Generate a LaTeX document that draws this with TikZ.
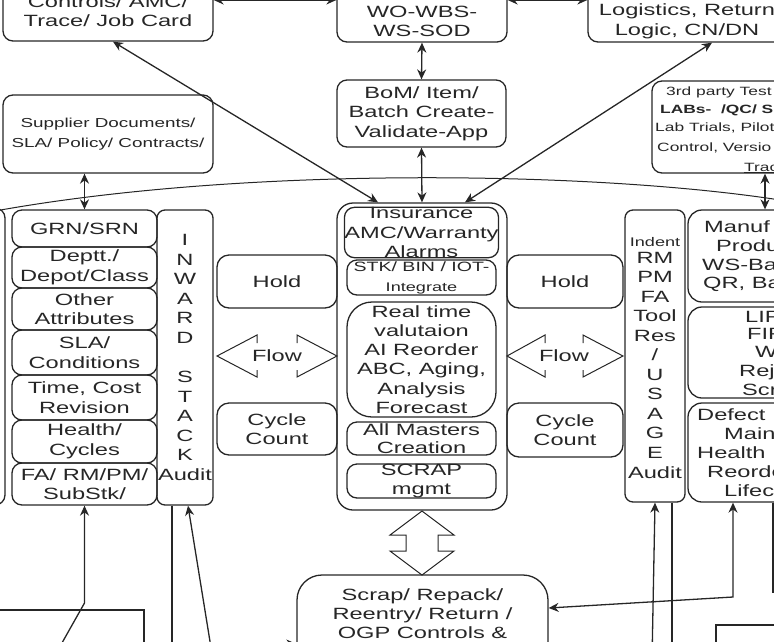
\documentclass[tikz,border=0pt]{standalone}
\usepackage{fontspec}
\setmainfont{Liberation Sans}[FakeStretch=1.45]
\usetikzlibrary{arrows.meta}
\definecolor{ink}{HTML}{262626}
\newcommand{\fMain}{\fontsize{16.3}{19.5}\selectfont}
\newcommand{\fInw}{\fontsize{16.3}{19.55}\selectfont}
\newcommand{\fRt}{\fontsize{16.3}{19.2}\selectfont}
\newcommand{\fAm}{\fontsize{16.3}{18.5}\selectfont}
\newcommand{\fStk}{\fontsize{13.5}{20}\selectfont}
\newcommand{\fSup}{\fontsize{13}{20}\selectfont}
\newcommand{\fTp}{\fontsize{12}{14}\selectfont}
\newcommand{\Bx}[7][]{%
  \node[bx,#1,minimum width={(#5)-(#3)},minimum height={(#6)-(#4)}] (#2)
    at ({((#3)+(#5))/2},{((#4)+(#6))/2}) {#7};}
\begin{document}
\begin{tikzpicture}[x=1pt,y=-1pt,
  every node/.style={text=ink},
  bx/.style={draw=ink,line width=1.3pt,rounded corners=10pt,inner sep=0pt,align=center,font=\fMain},
  tx/.style={inner sep=0pt,align=center,font=\fMain},
  tw/.style={inner sep=0pt,anchor=west,font=\fMain},
  ln/.style={draw=ink,line width=1.3pt},
  arr/.style={draw=ink,line width=1.3pt,{Stealth[length=10pt,width=9pt]}-{Stealth[length=10pt,width=9pt]}},
  arrone/.style={draw=ink,line width=1.3pt,-{Stealth[length=10pt,width=9pt]}},
  hollow/.style={draw=ink,line width=1pt,line join=miter}]
\useasboundingbox (0,0) rectangle (774,641);

% top row
\Bx{tl}{3}{-19}{213}{41}{Controls/ AMC/\\Trace/ Job Card}
\Bx{tm}{337}{-20}{507}{42}{}
\node[tx] (tmT) at (422,21.5) {WO-WBS-\\WS-SOD};
\Bx{tr}{588}{-20}{786}{42}{}
\node[tx] (trT) at (687,21.5) {Logistics, Return\\Logic, CN/DN};
\Bx{bom}{337}{80}{506}{147}{BoM/ Item/\\Batch Create-\\Validate-App}
\Bx[font=\fSup]{sup}{3}{95}{213}{173}{Supplier Documents/\\SLA/ Policy/ Contracts/}
\Bx{thr}{652}{81}{870}{173}{}
\node[tw,font=\fTp] (t1) at (666,92) {3rd party Test};
\node[tw,font=\fTp\bfseries] (t2) at (660,110) {LABs-\ \ /QC/ Su};
\node[tw,font=\fTp] (t3) at (655,128) {Lab Trials, Pilot};
\node[tw,font=\fTp] (t4) at (657,148) {Control, Versio};
\node[tw,font=\fTp] (t5) at (744,168) {\underline{Trac}};

% central stack
\Bx[rounded corners=16pt]{cO}{337}{203}{507}{510}{}
\Bx{ins}{347}{210}{496}{255}{Insurance\\AMC/Warranty\\Alarms}
\Bx[font=\fStk]{stk}{347}{260}{496}{295}{STK/ BIN / IOT-\\{\fontsize{12.5}{20}\selectfont Integrate}}
\Bx[rounded corners=25pt,font=\fRt]{rt}{347}{302}{496}{417}{Real time\\valutaion\\AI Reorder\\ABC, Aging,\\Analysis\\Forecast}
\Bx[font=\fAm]{am}{347}{422}{496}{455}{All Masters\\Creation}
\Bx[font=\fAm]{sc}{347}{464}{496}{498}{SCRAP\\mgmt}

% left stack
\Bx{farL}{-60}{208}{5}{505}{}
\Bx{c1}{12}{210}{157}{247}{GRN/SRN}
\Bx{c2}{12}{247}{157}{288}{Deptt./\\Depot/Class}
\Bx{c3}{12}{288}{157}{330}{Other\\Attributes}
\Bx{c4}{12}{330}{157}{375}{SLA/\\Conditions}
\Bx{c5}{12}{375}{157}{420}{Time, Cost\\Revision}
\Bx{c6}{12}{420}{157}{463}{Health/\\Cycles}
\Bx{c7}{12}{463}{157}{505}{FA/ RM/PM/\\SubStk/}
\Bx[rounded corners=8pt,font=\fInw]{inw}{157}{210}{213}{505}{I\\N\\W\\A\\R\\D\\\mbox{}\\S\\T\\A\\C\\K\\Audit}

% left hold / flow / cycle
\Bx[rounded corners=12pt]{holdL}{217}{255}{337}{308}{Hold}
\Bx[rounded corners=12pt]{cycL}{217}{403}{337}{455}{Cycle\\Count}
\draw[hollow] (257,343) -- (257,335) -- (217,356) -- (257,377) -- (257,370);
\draw[hollow] (297,343) -- (297,335) -- (337,356) -- (297,377) -- (297,370);
\node[tx] (flowL) at (277,356) {Flow};

% right hold / flow / cycle
\Bx[rounded corners=12pt]{holdR}{507}{255}{623}{308}{Hold}
\Bx[rounded corners=12pt]{cycR}{507}{403}{623}{457}{Cycle\\Count}
\draw[hollow] (545,343) -- (545,335) -- (507,356) -- (545,377) -- (545,370);
\draw[hollow] (583,343) -- (583,335) -- (623,356) -- (583,377) -- (583,370);
\node[tx] (flowR) at (564,356) {Flow};

% indent column
\Bx[rounded corners=8pt]{ind}{625}{210}{685}{502}{}
\node[tx,font=\fontsize{12.5}{14}\selectfont] (indT) at (655,242) {Indent};
\node[tx,font=\fInw] (usT) at (655,365) {RM\\PM\\FA\\Tool\\Res\\/\\U\\S\\A\\G\\E\\Audit};

% right cells (cropped)
\Bx[rounded corners=14pt]{mfb}{688}{210}{850}{302}{}
\Bx[rounded corners=14pt]{lfb}{688}{307}{850}{398}{}
\Bx[rounded corners=14pt]{dfb}{688}{403}{850}{502}{}
\node[tw] (m1) at (704,227) {Manuf};
\node[tw] (m2) at (716,246) {Produ};
\node[tw] (m3) at (702,265) {WS-Ba};
\node[tw] (m4) at (703,284) {QR, Ba};
\node[tw] (l1) at (745,317) {LIF};
\node[tw] (l2) at (747,334) {FIF};
\node[tw] (l3) at (755,352) {W};
\node[tw] (l4) at (739,372) {Rej};
\node[tw] (l5) at (742,390) {Scr};
\node[tw] (d1) at (697,415) {Defect};
\node[tw] (d2) at (724,434) {Main};
\node[tw] (d3) at (697,453) {Health};
\node[tw] (d4) at (707,472) {Reorde};
\node[tw] (d5) at (724,491) {Lifec};

% bottom
\Bx[rounded corners=25pt]{scr}{297}{575}{548}{720}{}
\node[tx,font=\fontsize{16.3}{19}\selectfont] (scrT) at (422.5,614) {Scrap/ Repack/\\Reentry/ Return /\\OGP Controls \&};
\Bx[rounded corners=0pt]{lbx}{-10}{610}{144}{720}{}
\Bx[rounded corners=0pt]{rbx}{716}{625}{860}{720}{}
\draw[hollow] (422,511) -- (454,535) -- (438,535) -- (438,551) -- (454,551) -- (422,575)
  -- (390,551) -- (406,551) -- (406,535) -- (390,535) -- cycle;

% connectors
\draw[arr] (tl.east |- 0,0) -- (tm.west |- 0,0);
\draw[arr] (tm.east |- 0,0) -- (tr.west |- 0,0);
\draw[arr] (tm.south) -- (bom.north);
\draw[arr] (bom.south) -- (cO.north);
\draw[arr] ([xshift=5pt]tl.south) -- ([xshift=-44pt]cO.north);
\draw[arr] ([xshift=25pt]tr.south) -- ([xshift=43pt]cO.north);
\draw[arr] (c1.north |- sup.south) -- (c1.north);
\draw[arr] ([xshift=4pt]thr.south) -- ([xshift=4pt]thr.south |- mfb.north);
\draw[line width=1pt,draw=ink] (-5,211) .. controls (250,165) and (600,172) .. (780,200);

\draw[arrone] (58,650) -- (84.5,603) -- (c7.south);
\draw[ln] (inw.south -| 172,0) -- (172,660);
\draw[arrone] (213,660) -- (inw.south -| 188,0);
\draw[arrone] (240,644) -- (scr.west |- 0,644);
\draw[arrone] (652,660) -- (ind.south -| 655,0);
\draw[ln] (ind.south -| 672,0) -- (672,660);
\draw[arr] (dfb.south -| 733,0) -- (733,597) -- (scr.east |- 0,608);
\draw[ln] (dfb.south -| 773,0) -- (773,593);
\end{tikzpicture}
\end{document}
